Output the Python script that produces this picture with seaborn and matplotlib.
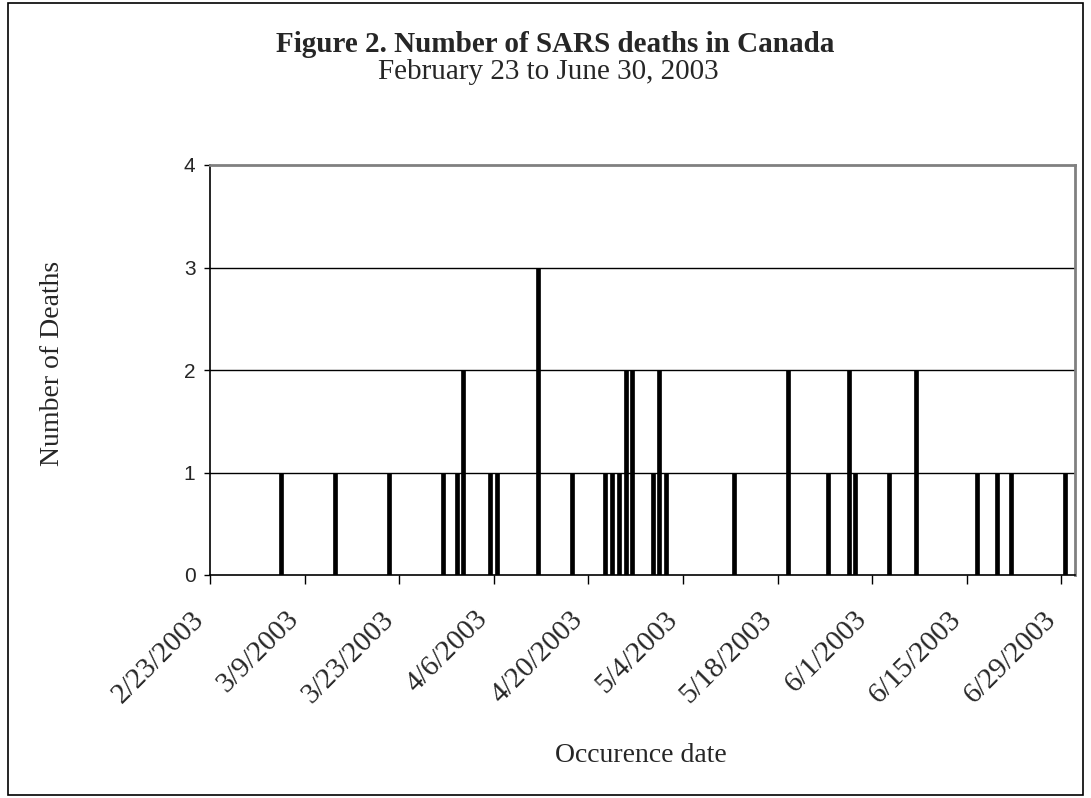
import pandas as pd
import matplotlib.pyplot as plt
import matplotlib.dates as mdates
import matplotlib.transforms as mtransforms
from matplotlib.patches import Rectangle
import seaborn as sns

# daily SARS deaths
dates = ['2003-03-05', '2003-03-13', '2003-03-21', '2003-03-29', '2003-03-31',
         '2003-04-01', '2003-04-05', '2003-04-06', '2003-04-12', '2003-04-17',
         '2003-04-22', '2003-04-23', '2003-04-24', '2003-04-25', '2003-04-26',
         '2003-04-29', '2003-04-30', '2003-05-01', '2003-05-11', '2003-05-19',
         '2003-05-25', '2003-05-28', '2003-05-29', '2003-06-03', '2003-06-07',
         '2003-06-16', '2003-06-19', '2003-06-21', '2003-06-29']
deaths = [1, 1, 1, 1, 1,
          2, 1, 1, 3, 1,
          1, 1, 1, 2, 2,
          1, 2, 1, 1, 2,
          1, 2, 1, 1, 2,
          1, 1, 1, 1]

start, end = '2003-02-23', '2003-07-01'
tick_dates = pd.date_range('2003-02-23', '2003-06-29', freq='14D')

df = pd.DataFrame({'date': pd.to_datetime(dates), 'deaths': deaths})
# each day occupies one slot, bar centred in it
df['x'] = mdates.date2num(df['date']) + 0.5

sns.set_style('white')
serif = 'Liberation Serif'
sans = 'Liberation Sans'

fig = plt.figure(figsize=(10.91, 7.98), dpi=100)
ax = fig.add_axes([210 / 1091, 1 - 575 / 798, 865 / 1091, 410 / 798])

sns.barplot(data=df, x='x', y='deaths', native_scale=True, width=0.6,
            color='black', saturation=1, edgecolor='black', linewidth=0.5, ax=ax)

ax.set_xlim(mdates.date2num(pd.Timestamp(start)), mdates.date2num(pd.Timestamp(end)))
ax.set_ylim(0, 4)
ax.set_yticks([0, 1, 2, 3, 4])
ax.set_yticklabels(['0', '1', '2', '3', '4'], fontfamily=sans, fontsize=15)
for yv in [1, 2, 3]:
    ax.axhline(yv, color='black', lw=1, zorder=0)

ax.set_xticks(mdates.date2num(tick_dates))
ax.set_xticklabels([f'{d.month}/{d.day}/{d.year}' for d in tick_dates],
                   rotation=45, ha='right', rotation_mode='anchor',
                   fontfamily=serif, fontsize=21)
ax.tick_params(axis='x', direction='out', length=6.5, width=1, color='black', pad=16)
ax.tick_params(axis='y', direction='out', length=4.5, width=1, color='black', pad=6)
ax.xaxis.set_ticks_position('bottom')
ax.yaxis.set_ticks_position('left')
shift = mtransforms.ScaledTranslation(-19 / 100, 0, fig.dpi_scale_trans)
for lbl in ax.get_xticklabels():
    lbl.set_transform(lbl.get_transform() + shift)

for side in ['top', 'right']:
    ax.spines[side].set_color('#808080')
    ax.spines[side].set_linewidth(2)
for side in ['left', 'bottom']:
    ax.spines[side].set_color('black')
    ax.spines[side].set_linewidth(1.2)

ax.set_xlabel('')
ax.set_ylabel('')
fig.text(641 / 1091, 1 - 755 / 798, 'Occurence date', ha='center', va='center',
         fontfamily=serif, fontsize=20)
fig.text(53 / 1091, 1 - 363 / 798, 'Number of Deaths', ha='center', va='center',
         rotation=90, fontfamily=serif, fontsize=20)

fig.text(555 / 1091, 1 - 45 / 798, 'Figure 2. Number of SARS deaths in Canada', ha='center',
         va='center', fontfamily=serif, fontweight='bold', fontsize=21)
fig.text(548 / 1091, 1 - 72 / 798, 'February 23 to June 30, 2003', ha='center',
         va='center', fontfamily=serif, fontsize=21)

# outer chart frame
fig.patches.append(Rectangle((8 / 1091, 3 / 798), 1075 / 1091, 792 / 798,
                             transform=fig.transFigure, fill=False,
                             edgecolor='black', lw=1.2))

plt.savefig('out.png', dpi=100)
